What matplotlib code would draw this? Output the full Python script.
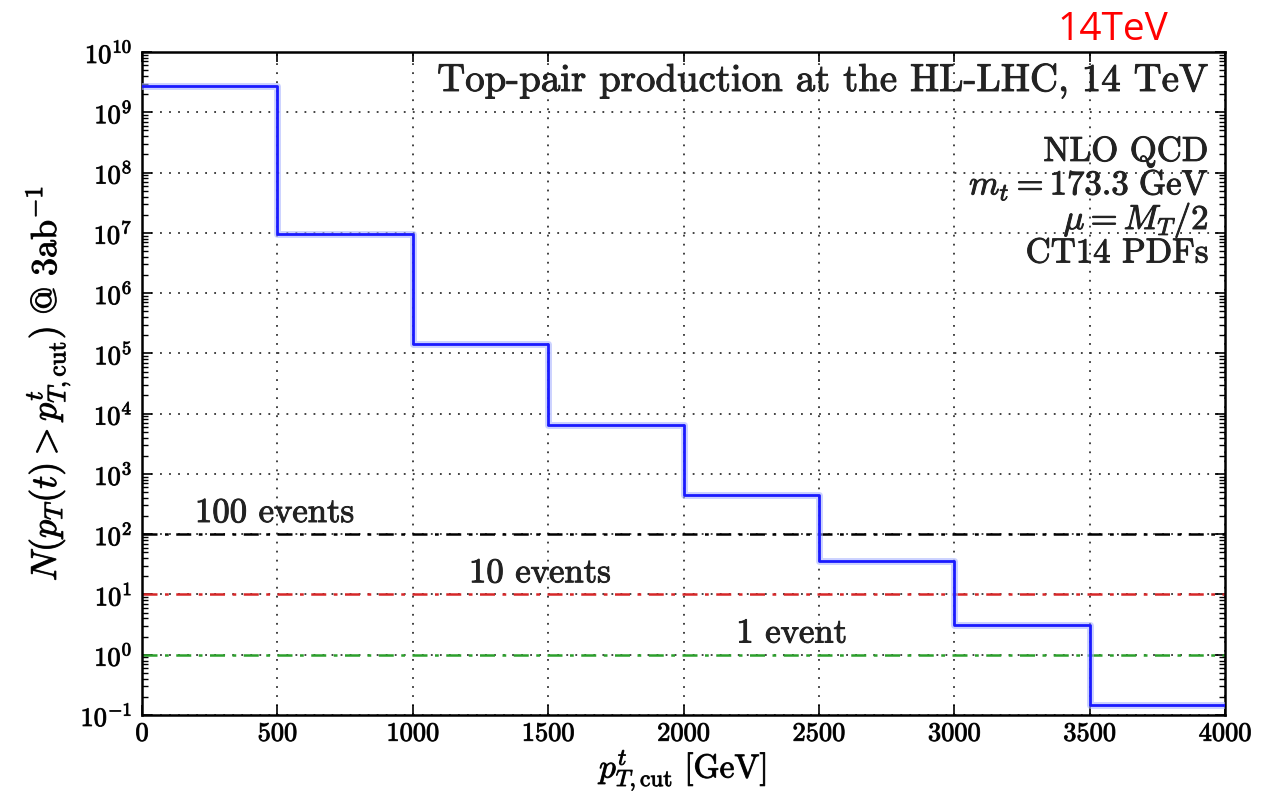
import matplotlib
matplotlib.use("Agg")
import matplotlib.pyplot as plt
import matplotlib.patheffects as pe
import numpy as np

bin_edges = [0, 500, 1000, 1500, 2000, 2500, 3000, 3500, 4000]
counts = [2.7e9, 9.7e6, 1.44e5, 6.5e3, 450, 36, 3.1, 0.148]
ref_levels = [100, 10, 1]
ref_colors = ["black", "#d62728", "#2ca02c"]
ref_labels = ["100 events", "10 events", "1 event"]
ref_label_x = [490, 1470, 2400]
xticks = [0, 500, 1000, 1500, 2000, 2500, 3000, 3500, 4000]

plt.rcParams['font.family'] = 'cmr10'
plt.rcParams['mathtext.fontset'] = 'cm'
plt.rcParams['axes.formatter.use_mathtext'] = True
plt.rcParams['axes.unicode_minus'] = False

bold = [pe.withStroke(linewidth=0.7, foreground='#222222')]

fig = plt.figure(figsize=(12.61, 7.99), dpi=100)
ax = fig.add_axes([142/1261, 1 - 715/799, (1225-142)/1261, (715-52)/799])

x = np.array(bin_edges)
y = np.append(counts, counts[-1])
ax.step(x, y, where='post', color='#aab4ff', lw=5, alpha=0.6, zorder=3)
ax.step(x, y, where='post', color='#1a1aff', lw=2.0, zorder=4)

for lev, c, lab, lx in zip(ref_levels, ref_colors, ref_labels, ref_label_x):
    ax.axhline(lev, color=c, ls=(0, (6, 3, 1.5, 3)), lw=1.8, zorder=2)
    ax.text(lx, lev * 1.22, lab, ha='center', va='bottom', fontsize=25, color='#222222',
            path_effects=bold)

ax.set_yscale('log')
ax.set_xlim(0, 4000)
ax.set_ylim(1e-1, 1e10)
ax.set_xticks(xticks)
ax.set_xticklabels([str(t) for t in xticks])
ax.yaxis.set_major_locator(matplotlib.ticker.LogLocator(base=10, numticks=20))
ax.yaxis.set_minor_locator(matplotlib.ticker.LogLocator(base=10, subs=np.arange(2, 10), numticks=20))
ax.yaxis.set_minor_formatter(matplotlib.ticker.NullFormatter())
ax.tick_params(axis='both', which='major', direction='in', length=7, width=1.2, labelsize=19, pad=7)
ax.tick_params(axis='x', which='major', pad=5)
ax.tick_params(axis='both', which='minor', direction='in', length=4, width=1)
ax.tick_params(top=True, right=True, which='both')
ax.grid(True, which='major', ls=(0, (1, 4)), color='#333333', lw=1.3)
for s in ax.spines.values():
    s.set_linewidth(1.8)
for lbl in ax.get_xticklabels() + ax.get_yticklabels():
    lbl.set_path_effects(bold)

ax.set_xlabel(r'$p^t_{T,\mathrm{cut}}\ [\mathrm{GeV}]$', fontsize=24, path_effects=bold)
ax.xaxis.set_label_coords(0.5, -0.05, transform=ax.transAxes)
ax.xaxis.label.set_va('top')
ax.set_ylabel(r'$N(p_T(t) > p^t_{T,\mathrm{cut}})\ @\ 3\mathrm{ab}^{-1}$', fontsize=26, labelpad=6,
              path_effects=bold)

ax.text(0.985, 0.985, 'Top-pair production at the HL-LHC, 14 TeV', transform=ax.transAxes,
        ha='right', va='top', fontsize=28, color='#222222', path_effects=bold)
ax.text(0.985, 0.875, 'NLO QCD\n' + r'$m_t = 173.3\ \mathrm{GeV}$' + '\n' + r'$\mu = M_T/2$' + '\nCT14 PDFs',
        transform=ax.transAxes, ha='right', va='top', fontsize=25, color='#222222', linespacing=0.95,
        path_effects=bold)

fig.text(1113/1261, 1 - 30/799, '14TeV', color='red', fontsize=28, family='Open Sans',
         ha='center', va='center')

fig.savefig('out.png', dpi=100)
